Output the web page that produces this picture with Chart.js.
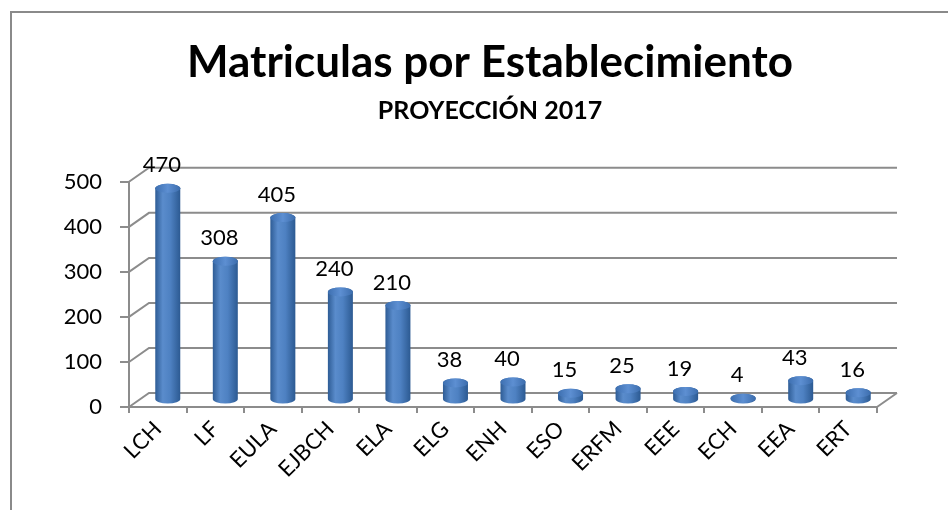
<!DOCTYPE html>
<html>
<head>
<meta charset="utf-8">
<script src="https://cdn.jsdelivr.net/npm/chart.js@4.4.0/dist/chart.umd.min.js"></script>
<style>
html, body { margin: 0; padding: 0; background: #fff; overflow: hidden; }
#frame { position: absolute; left: 10px; top: 11px; width: 1000px; height: 600px;
  border-left: 2px solid #8a8a8a; border-top: 2px solid #8a8a8a; }
#wrap { position: absolute; left: 0; top: 0; width: 948px; height: 510px; }
</style>
</head>
<body>
<div id="frame"></div>
<div id="wrap"><canvas id="chart"></canvas></div>
<script>
// Matriculas por establecimiento, proyeccion 2017
const categories = ['LCH', 'LF', 'EULA', 'EJBCH', 'ELA', 'ELG', 'ENH', 'ESO', 'ERFM', 'EEE', 'ECH', 'EEA', 'ERT'];
const matriculas = [470, 308, 405, 240, 210, 38, 40, 15, 25, 19, 4, 43, 16];
const yTicks = [0, 100, 200, 300, 400, 500];

const FONT = 'Lato';
const GRID = '#8c8c8c';
const DX = 20, DY = -14;   // depth of the back wall
const BAR_W = 25;

// back wall + side wall gridlines, cylinders and value labels
const cylinders3d = {
  id: 'cylinders3d',
  beforeDatasetsDraw(chart) {
    const { ctx, chartArea: a, scales: { y } } = chart;
    ctx.save();
    ctx.strokeStyle = GRID;
    ctx.lineWidth = 2;
    ctx.beginPath();
    yTicks.forEach(v => {
      const py = y.getPixelForValue(v);
      ctx.moveTo(a.left, py);
      ctx.lineTo(a.left + DX, py + DY);
      ctx.lineTo(a.right + DX, py + DY);
    });
    ctx.moveTo(a.right, a.bottom);
    ctx.lineTo(a.right + DX, a.bottom + DY);
    ctx.stroke();
    ctx.restore();
  },
  afterDatasetsDraw(chart) {
    const { ctx } = chart;
    const meta = chart.getDatasetMeta(0);
    ctx.save();
    meta.data.forEach((bar, i) => {
      const cx = bar.x + DX / 2;
      const top = bar.y + DY / 2;
      const base = bar.base + DY / 2;
      const r = BAR_W / 2, ry = 4.5;

      const body = ctx.createLinearGradient(cx - r, 0, cx + r, 0);
      body.addColorStop(0, '#2e5c95');
      body.addColorStop(0.3, '#5a8ccc');
      body.addColorStop(0.6, '#4e81c2');
      body.addColorStop(1, '#2c5a92');
      ctx.fillStyle = body;
      ctx.beginPath();
      ctx.moveTo(cx - r, top);
      ctx.lineTo(cx - r, base);
      ctx.ellipse(cx, base, r, ry, 0, Math.PI, 0, true);
      ctx.lineTo(cx + r, top);
      ctx.ellipse(cx, top, r, ry, 0, 0, Math.PI, true);
      ctx.closePath();
      ctx.fill();

      const cap = ctx.createLinearGradient(cx - r, 0, cx + r, 0);
      cap.addColorStop(0, '#3d6fb0');
      cap.addColorStop(0.5, '#5d8fd2');
      cap.addColorStop(1, '#3c6dad');
      ctx.fillStyle = cap;
      ctx.beginPath();
      ctx.ellipse(cx, top, r, ry, 0, 0, Math.PI * 2);
      ctx.fill();

      ctx.fillStyle = '#000';
      ctx.font = '22px ' + FONT;
      ctx.textAlign = 'center';
      ctx.textBaseline = 'middle';
      ctx.fillText(String(matriculas[i]), bar.x + 4, bar.y - 30);
    });
    ctx.restore();
  }
};

const ctx = document.getElementById('chart').getContext('2d');
const chart = new Chart(ctx, {
  type: 'bar',
  data: {
    labels: categories,
    datasets: [{
      label: 'Matriculas',
      data: matriculas,
      backgroundColor: 'rgba(0,0,0,0)',
      borderWidth: 0
    }]
  },
  options: {
    responsive: true,
    maintainAspectRatio: false,
    animation: false,
    layout: { padding: { left: 60, right: 28, top: 0, bottom: 0 } },
    plugins: {
      legend: { display: false },
      tooltip: { enabled: false },
      title: {
        display: true,
        text: 'Matriculas por Establecimiento',
        color: '#000',
        font: { family: FONT, size: 44, weight: 'bold', lineHeight: 1.2 },
        padding: { top: 36, bottom: 0 }
      },
      subtitle: {
        display: true,
        text: 'PROYECCIÓN 2017',
        color: '#000',
        font: { family: FONT, size: 25, weight: 'bold', lineHeight: 1.2 },
        padding: { top: 7, bottom: 56 }
      }
    },
    scales: {
      x: {
        offset: true,
        grid: { offset: true, drawOnChartArea: false, color: GRID, lineWidth: 2, tickLength: 6 },
        border: { color: GRID, width: 2 },
        ticks: { color: '#000', font: { family: FONT, size: 22 }, minRotation: 45, maxRotation: 45, autoSkip: false, padding: 3 },
        afterFit(s) { s.height = 103; }
      },
      y: {
        min: 0,
        max: 500,
        ticks: { stepSize: 100, color: '#000', font: { family: FONT, size: 22 }, padding: 18 },
        grid: { drawOnChartArea: false, color: GRID, lineWidth: 2, tickLength: 9 },
        border: { color: GRID, width: 2 },
        afterFit(s) { s.width = 69; }
      },
      // empty strip on the right that holds the depth of the back wall
      depth: {
        position: 'right',
        min: 0,
        max: 500,
        grid: { display: false },
        border: { display: false },
        ticks: { display: false },
        afterFit(s) { s.width = 43; }
      }
    }
  },
  plugins: [cylinders3d]
});
</script>
</body>
</html>
